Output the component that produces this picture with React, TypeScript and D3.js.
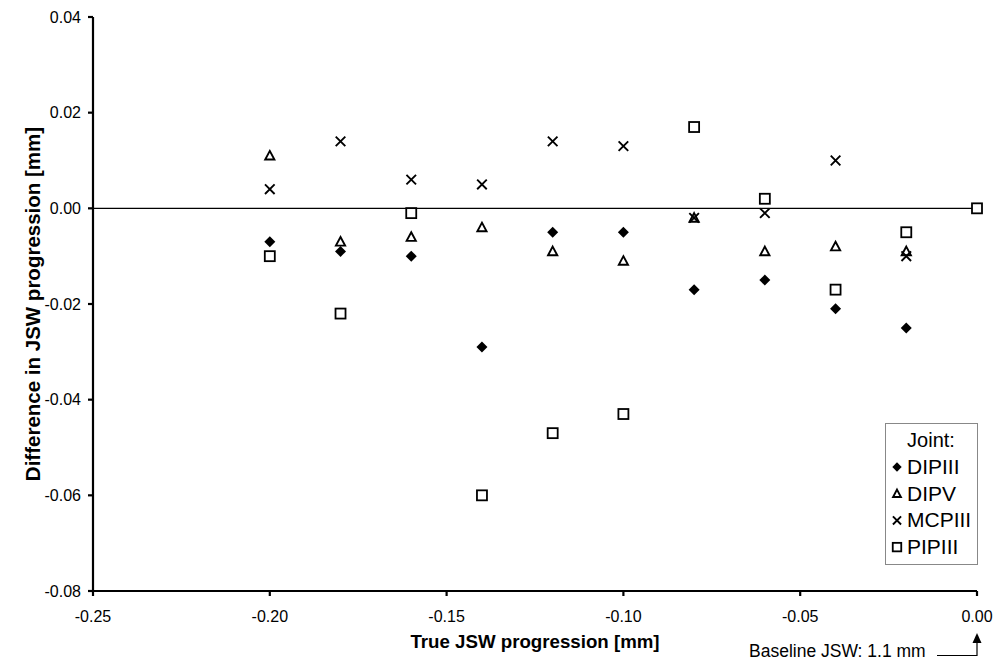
import React from "react";
import * as d3 from "d3";

const xValues = [-0.2, -0.18, -0.16, -0.14, -0.12, -0.1, -0.08, -0.06, -0.04, -0.02];
const dipIII = [-0.007, -0.009, -0.01, -0.029, -0.005, -0.005, -0.017, -0.015, -0.021, -0.025];
const dipV = [0.011, -0.007, -0.006, -0.004, -0.009, -0.011, -0.002, -0.009, -0.008, -0.009];
const mcpIII = [0.004, 0.014, 0.006, 0.005, 0.014, 0.013, -0.002, -0.001, 0.01, -0.01];
const pipX = [-0.2, -0.18, -0.16, -0.14, -0.12, -0.1, -0.08, -0.06, -0.04, -0.02, 0.0];
const pipIII = [-0.01, -0.022, -0.001, -0.06, -0.047, -0.043, 0.017, 0.002, -0.017, -0.005, 0.0];
const xTicks = [-0.25, -0.2, -0.15, -0.1, -0.05, 0.0];
const yTicks = [0.04, 0.02, 0.0, -0.02, -0.04, -0.06, -0.08];
const legendNames = ["DIPIII", "DIPV", "MCPIII", "PIPIII"];

const FONT = "Liberation Sans, Arial, sans-serif";

function Marker({ type, x, y, s = 1 }: { type: string; x: number; y: number; s?: number }) {
  if (type === "diamond") {
    const r = 5.5 * s;
    return <path d={`M${x},${y - r}L${x + r},${y}L${x},${y + r}L${x - r},${y}Z`} fill="#000" />;
  }
  if (type === "triangle") {
    return (
      <path
        d={`M${x},${y - 4.8 * s}L${x + 4.6 * s},${y + 3.8 * s}L${x - 4.6 * s},${y + 3.8 * s}Z`}
        fill="#fff"
        stroke="#000"
        strokeWidth={1.9}
      />
    );
  }
  if (type === "cross") {
    const r = 4.8 * s;
    return (
      <path d={`M${x - r},${y - r}L${x + r},${y + r}M${x - r},${y + r}L${x + r},${y - r}`} stroke="#000" strokeWidth={1.9} />
    );
  }
  return <rect x={x - 5 * s} y={y - 5 * s} width={10 * s} height={10 * s} fill="#fff" stroke="#000" strokeWidth={1.8} />;
}

export default function App() {
  const W = 1003, H = 661;
  const x = d3.scaleLinear().domain([-0.25, 0]).range([93, 977]);
  const y = d3.scaleLinear().domain([-0.08, 0.04]).range([591, 17]);
  const series = [
    { type: "diamond", xs: xValues, ys: dipIII },
    { type: "triangle", xs: xValues, ys: dipV },
    { type: "cross", xs: xValues, ys: mcpIII },
    { type: "square", xs: pipX, ys: pipIII },
  ];
  const legendTypes = ["diamond", "triangle", "cross", "square"];
  return (
    <svg width={W} height={H} style={{ position: "absolute", left: 0, top: 0, background: "#fff" }} fontFamily={FONT}>
      <rect width={W} height={H} fill="#fff" />
      <line x1={x(-0.25)} x2={x(0)} y1={y(0)} y2={y(0)} stroke="#000" strokeWidth={1.3} />
      <line x1={x(-0.25)} x2={x(-0.25)} y1={y(0.04)} y2={y(-0.08)} stroke="#000" strokeWidth={2.2} />
      <line x1={x(-0.25)} x2={x(0)} y1={y(-0.08)} y2={y(-0.08)} stroke="#000" strokeWidth={2.2} />
      {yTicks.map((t) => (
        <g key={"y" + t}>
          <line x1={x(-0.25) - 5} x2={x(-0.25)} y1={y(t)} y2={y(t)} stroke="#000" strokeWidth={2.2} />
          <text x={x(-0.25) - 12} y={y(t) + 5.5} textAnchor="end" fontSize={16}>
            {t.toFixed(2)}
          </text>
        </g>
      ))}
      {xTicks.map((t) => (
        <g key={"x" + t}>
          <line x1={x(t)} x2={x(t)} y1={y(-0.08)} y2={y(-0.08) + 5} stroke="#000" strokeWidth={2.2} />
          <text x={x(t)} y={622} textAnchor="middle" fontSize={16}>
            {t.toFixed(2)}
          </text>
        </g>
      ))}
      <text x={535} y={648} textAnchor="middle" fontSize={18.7} fontWeight="bold">
        True JSW progression [mm]
      </text>
      <text transform={`translate(40,${304}) rotate(-90)`} textAnchor="middle" fontSize={20.5} fontWeight="bold">
        Difference in JSW progression [mm]
      </text>
      {series.map((s) =>
        s.ys.map((v, i) => <Marker key={s.type + i} type={s.type} x={x(s.xs[i])} y={y(v)} />)
      )}
      <rect x={885.5} y={423.5} width={92} height={141} fill="#fff" stroke="#888" strokeWidth={1} />
      <text x={931} y={447} textAnchor="middle" fontSize={20}>
        Joint:
      </text>
      {legendNames.map((n, i) => (
        <g key={n}>
          <Marker type={legendTypes[i]} x={897} y={467 + i * 26.7} s={0.85} />
          <text x={907} y={474 + i * 26.7} fontSize={21}>
            {n}
          </text>
        </g>
      ))}
      <text x={749} y={657} fontSize={17.5}>
        Baseline JSW: 1.1 mm
      </text>
      <path d={`M937,655.5H977V642`} fill="none" stroke="#000" strokeWidth={1.2} />
      <path d={`M977,633L981.5,643H972.5Z`} fill="#000" />
    </svg>
  );
}
